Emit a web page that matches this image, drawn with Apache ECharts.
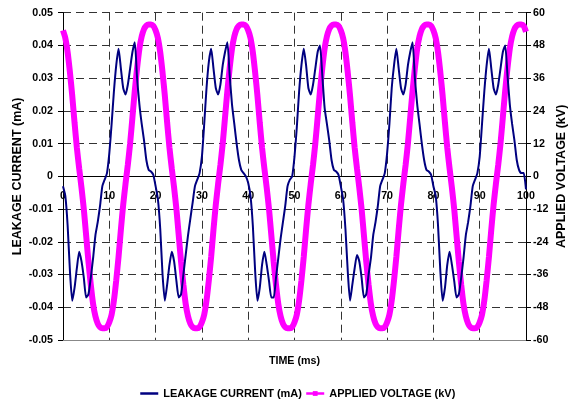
<!DOCTYPE html>
<html>
<head>
<meta charset="utf-8">
<script src="https://cdn.jsdelivr.net/npm/echarts@6/dist/echarts.min.js"></script>
<style>
html,body{margin:0;padding:0;background:#fff;}
#chart{width:569px;height:403px;}
</style>
</head>
<body>
<div id="chart"></div>
<script>
// Time in ms (0.5 ms sampling)
const time = [
0,0.5,1,1.5,2,2.5,3,3.5,4,4.5,5,5.5,6,6.5,7,7.5,8,8.5,9,9.5,
10,10.5,11,11.5,12,12.5,13,13.5,14,14.5,15,15.5,16,16.5,17,17.5,18,18.5,19,19.5,
20,20.5,21,21.5,22,22.5,23,23.5,24,24.5,25,25.5,26,26.5,27,27.5,28,28.5,29,29.5,
30,30.5,31,31.5,32,32.5,33,33.5,34,34.5,35,35.5,36,36.5,37,37.5,38,38.5,39,39.5,
40,40.5,41,41.5,42,42.5,43,43.5,44,44.5,45,45.5,46,46.5,47,47.5,48,48.5,49,49.5,
50,50.5,51,51.5,52,52.5,53,53.5,54,54.5,55,55.5,56,56.5,57,57.5,58,58.5,59,59.5,
60,60.5,61,61.5,62,62.5,63,63.5,64,64.5,65,65.5,66,66.5,67,67.5,68,68.5,69,69.5,
70,70.5,71,71.5,72,72.5,73,73.5,74,74.5,75,75.5,76,76.5,77,77.5,78,78.5,79,79.5,
80,80.5,81,81.5,82,82.5,83,83.5,84,84.5,85,85.5,86,86.5,87,87.5,88,88.5,89,89.5,
90,90.5,91,91.5,92,92.5,93,93.5,94,94.5,95,95.5,96,96.5,97,97.5,98,98.5,99,99.5,
100
];

// Leakage current (mA)
const leakageCurrent = [
-0.003,-0.006,-0.015,-0.029,-0.038,-0.034,-0.028,-0.023,-0.026,-0.031,-0.037,-0.036,-0.031,-0.025,-0.018,-0.014,-0.009,-0.003,-0.001,0.001,
0.007,0.016,0.026,0.034,0.039,0.033,0.027,0.025,0.028,0.033,0.038,0.041,0.030,0.022,0.016,0.011,0.005,0.002,0.0015,0.0005,
-0.003,-0.007,-0.016,-0.030,-0.038,-0.033,-0.027,-0.023,-0.026,-0.032,-0.037,-0.036,-0.030,-0.024,-0.018,-0.013,-0.008,-0.003,-0.001,0.001,
0.006,0.016,0.027,0.035,0.039,0.033,0.027,0.025,0.028,0.034,0.038,0.041,0.031,0.022,0.016,0.010,0.005,0.002,0.001,0.000,
-0.002,-0.006,-0.015,-0.029,-0.038,-0.034,-0.027,-0.023,-0.027,-0.032,-0.037,-0.037,-0.031,-0.025,-0.019,-0.014,-0.009,-0.003,-0.001,0.000,
0.006,0.015,0.026,0.034,0.039,0.034,0.027,0.025,0.028,0.033,0.038,0.040,0.031,0.021,0.016,0.011,0.005,0.002,0.0015,0.0005,
-0.003,-0.007,-0.016,-0.029,-0.038,-0.033,-0.028,-0.024,-0.026,-0.031,-0.037,-0.036,-0.030,-0.025,-0.018,-0.014,-0.009,-0.003,-0.001,0.001,
0.007,0.016,0.027,0.034,0.039,0.033,0.027,0.025,0.028,0.034,0.038,0.041,0.030,0.022,0.016,0.010,0.005,0.002,0.0015,0.0005,
-0.003,-0.006,-0.015,-0.029,-0.038,-0.034,-0.027,-0.023,-0.027,-0.032,-0.037,-0.036,-0.031,-0.025,-0.018,-0.014,-0.009,-0.003,-0.001,0.001,
0.006,0.016,0.026,0.034,0.039,0.033,0.027,0.025,0.028,0.033,0.038,0.040,0.031,0.022,0.016,0.011,0.005,0.002,0.001,0.001,
-0.004
];

// Applied voltage (kV)
const appliedVoltage = [
53.5,50.7,45.5,38.1,29.5,19.6,10.4,2.8,-4.2,-12.1,-21.7,-31.3,-39.7,-46.8,-51.3,-54,-55.3,-55.7,-55.7,-55.2,
-53.5,-50.7,-45.5,-38.1,-29.5,-19.6,-10.4,-2.8,4.2,12.1,21.7,31.3,39.7,46.8,51.3,54,55.3,55.7,55.7,55.2,
53.5,50.7,45.5,38.1,29.5,19.6,10.4,2.8,-4.2,-12.1,-21.7,-31.3,-39.7,-46.8,-51.3,-54,-55.3,-55.7,-55.7,-55.2,
-53.5,-50.7,-45.5,-38.1,-29.5,-19.6,-10.4,-2.8,4.2,12.1,21.7,31.3,39.7,46.8,51.3,54,55.3,55.7,55.7,55.2,
53.5,50.7,45.5,38.1,29.5,19.6,10.4,2.8,-4.2,-12.1,-21.7,-31.3,-39.7,-46.8,-51.3,-54,-55.3,-55.7,-55.7,-55.2,
-53.5,-50.7,-45.5,-38.1,-29.5,-19.6,-10.4,-2.8,4.2,12.1,21.7,31.3,39.7,46.8,51.3,54,55.3,55.7,55.7,55.2,
53.5,50.7,45.5,38.1,29.5,19.6,10.4,2.8,-4.2,-12.1,-21.7,-31.3,-39.7,-46.8,-51.3,-54,-55.3,-55.7,-55.7,-55.2,
-53.5,-50.7,-45.5,-38.1,-29.5,-19.6,-10.4,-2.8,4.2,12.1,21.7,31.3,39.7,46.8,51.3,54,55.3,55.7,55.7,55.2,
53.5,50.7,45.5,38.1,29.5,19.6,10.4,2.8,-4.2,-12.1,-21.7,-31.3,-39.7,-46.8,-51.3,-54,-55.3,-55.7,-55.7,-55.2,
-53.5,-50.7,-45.5,-38.1,-29.5,-19.6,-10.4,-2.8,4.2,12.1,21.7,31.3,39.7,46.8,51.3,54,55.3,55.7,55.7,55.2,
53
];

const seriesNames = ['LEAKAGE CURRENT (mA)', 'APPLIED VOLTAGE (kV)'];
const axisTitles = { x: 'TIME (ms)', yLeft: 'LEAKAGE CURRENT (mA)', yRight: 'APPLIED VOLTAGE (kV)' };
const voltageRange = [-60, 60];

const FONT = '"Liberation Sans", Arial, sans-serif';
const lbl = { color: '#000', fontWeight: 'bold', fontSize: 10.7, fontFamily: FONT };
const dash = { color: '#333', type: [8, 5], width: 1 };

const GRID = { left: 63, right: 43, top: 12.7, bottom: 63 };
const plotHeight = 403 - GRID.top - GRID.bottom;

const chart = echarts.init(document.getElementById('chart'), null, { renderer: 'canvas' });
chart.setOption({
  animation: false,
  backgroundColor: '#fff',
  grid: Object.assign({ containLabel: false, outerBoundsMode: 'none' }, GRID),
  legend: {
    left: 134, top: 383,
    itemWidth: 18, itemHeight: 6, itemGap: 3,
    textStyle: Object.assign({}, lbl, { fontSize: 11 }),
    data: [
      { name: seriesNames[0], lineStyle: { width: 2.5 }, itemStyle: { opacity: 0 } },
      { name: seriesNames[1], lineStyle: { width: 2.5 } }
    ]
  },
  xAxis: [
    {
      type: 'value', min: 0, max: 100, interval: 10, position: 'bottom',
      offset: -plotHeight / 2,
      axisLine: { onZero: false, lineStyle: { color: '#000', width: 1 } },
      axisTick: { show: false },
      axisLabel: Object.assign({ margin: 14, showMinLabel: true, showMaxLabel: true }, lbl),
      splitLine: { show: true, showMinLine: false, showMaxLine: false, lineStyle: dash },
      name: axisTitles.x, nameLocation: 'middle', nameGap: 179, nameMoveOverlap: false,
      nameTextStyle: lbl
    }
  ],
  yAxis: [
    {
      type: 'value', min: -0.05, max: 0.05, interval: 0.01, position: 'left',
      axisLine: { show: true, onZero: false, lineStyle: { color: '#000', width: 1 } },
      axisTick: { show: true, length: 5, lineStyle: { color: '#000' } },
      axisLabel: Object.assign({ margin: 10 }, lbl),
      splitLine: { show: true, showMinLine: false, lineStyle: dash },
      name: axisTitles.yLeft, nameLocation: 'middle', nameGap: 39, nameMoveOverlap: false,
      nameTextStyle: Object.assign({}, lbl, { fontSize: 12.5 })
    },
    {
      type: 'value', min: voltageRange[0], max: voltageRange[1], interval: 12, position: 'right',
      axisLine: { show: true, onZero: false, lineStyle: { color: '#000', width: 1 } },
      axisTick: { show: true, length: 5, lineStyle: { color: '#000' } },
      axisLabel: Object.assign({ margin: 7 }, lbl),
      splitLine: { show: false },
      name: axisTitles.yRight, nameLocation: 'middle', nameGap: 29, nameRotate: 90, nameMoveOverlap: false,
      nameTextStyle: Object.assign({}, lbl, { fontSize: 12.5 })
    }
  ],
  series: [
    {
      name: seriesNames[1], type: 'line', xAxisIndex: 0, yAxisIndex: 1,
      data: time.map((t, i) => [t, appliedVoltage[i]]),
      symbol: 'rect', symbolSize: 6, showSymbol: false,
      itemStyle: { color: '#FF00FF' },
      lineStyle: { color: '#FF00FF', width: 6 },
      smooth: 0.2, z: 2,
      markLine: {
        silent: true, symbol: 'none', animation: false,
        label: { show: false },
        lineStyle: { color: '#888', type: 'solid', width: 1 },
        data: [{ yAxis: voltageRange[0] }]
      }
    },
    {
      name: seriesNames[0], type: 'line', xAxisIndex: 0, yAxisIndex: 0,
      data: time.map((t, i) => [t, leakageCurrent[i]]),
      symbol: 'none', showSymbol: false,
      itemStyle: { color: '#000080' },
      lineStyle: { color: '#000080', width: 2 },
      smooth: 0.2, z: 3
    }
  ]
});
</script>
</body>
</html>
